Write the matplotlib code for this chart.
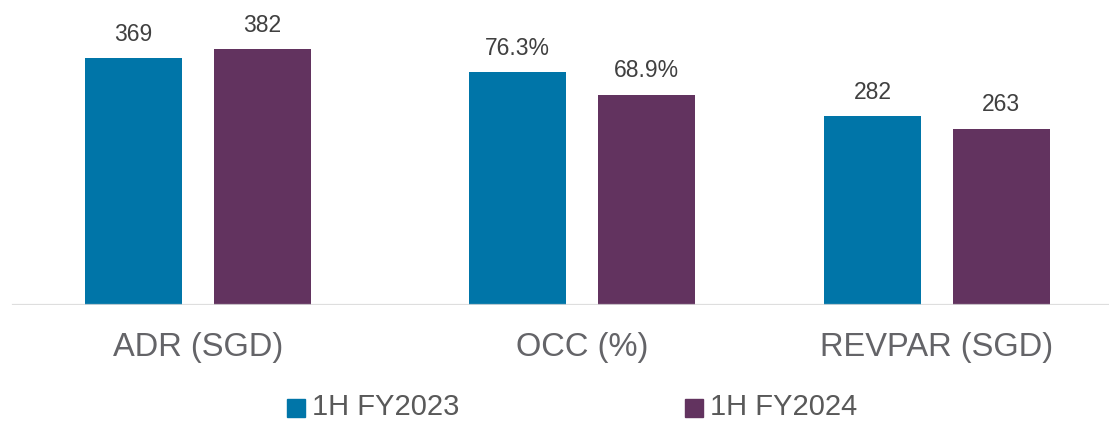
import matplotlib
matplotlib.use("Agg")
import matplotlib.pyplot as plt
from matplotlib.patches import Rectangle
from matplotlib.transforms import blended_transform_factory

# data
categories = ["ADR (SGD)", "OCC (%)", "REVPAR (SGD)"]
series = ["1H FY2023", "1H FY2024"]
fy2023 = [369, 76.3, 282]
fy2024 = [382, 68.9, 263]
label_fmt = ["{:.0f}", "{:.1f}%", "{:.0f}"]
colors = ["#0075A8", "#62335F"]

# layout (pixel units of a 1109x422 canvas)
W, H = 1109, 422
centers = [198, 582, 937]
bar_w = 97.5
offset = 64.3
legend_sq_x = [287, 685]

plt.rcParams["font.family"] = ["Liberation Sans", "DejaVu Sans"]

fig = plt.figure(figsize=(W / 100, H / 100), dpi=100)
ax = fig.add_axes([0, 117 / H, 1, 305 / H])
ax2 = ax.twinx()
for a in (ax, ax2):
    a.set_xlim(0, W)
    for s in a.spines.values():
        s.set_visible(False)
    a.set_xticks([])
    a.set_yticks([])
ax.set_ylim(0, 456)   # ADR / REVPAR scale
ax2.set_ylim(0, 100)  # OCC scale (percent)

for i, cat in enumerate(categories):
    axis = ax2 if "%" in cat else ax
    for j, vals in enumerate([fy2023, fy2024]):
        x = centers[i] + (j - 0.5) * 2 * offset
        axis.bar(x, vals[i], width=bar_w, color=colors[j], zorder=2)
        axis.annotate(label_fmt[i].format(vals[i]), (x, vals[i]),
                      xytext=(0, 12.7), textcoords="offset points",
                      ha="center", va="baseline", fontsize=16.5, color="#404040")

# baseline
ax2.axhline(0, xmin=13 / W, xmax=1, color="#d9d9d9", lw=1.6, alpha=0.85, zorder=5)

# category labels
trans = blended_transform_factory(ax.transData, ax.transAxes)
for i, cat in enumerate(categories):
    ax.text(centers[i], -51 / 305, cat, transform=trans, ha="center",
            va="baseline", fontsize=23.5, color="#646468")

# legend
for j, name in enumerate(series):
    fig.add_artist(Rectangle((legend_sq_x[j] / W, 5 / H), 18 / W, 18 / H,
                             transform=fig.transFigure, color=colors[j]))
    fig.text((legend_sq_x[j] + 25) / W, 7 / H, name, fontsize=21,
             color="#595959", va="baseline")

fig.savefig("out.png", dpi=100)
